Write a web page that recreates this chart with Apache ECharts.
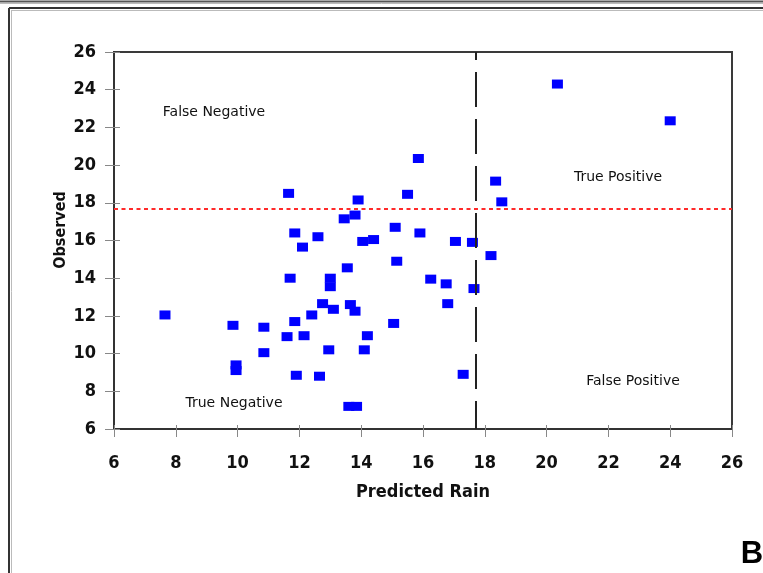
<!DOCTYPE html>
<html>
<head>
<meta charset="utf-8">
<script src="https://cdn.jsdelivr.net/npm/echarts@6/dist/echarts.min.js"></script>
<style>
html,body{margin:0;padding:0;background:#fff;}
#chart{width:763px;height:573px;}
</style>
</head>
<body>
<div id="chart"></div>
<script>
const predicted = [11.65, 11.85, 12.6, 12.1, 11.7, 7.65, 9.85, 10.85, 11.85, 12.4, 12.75, 11.6, 12.15, 10.85, 9.95, 9.95, 11.9, 12.65,
  15.85, 18.35, 15.5, 13.9, 18.55, 13.45, 13.8, 15.1, 15.9, 14.05, 14.4, 17.05, 17.6, 18.2, 13.55, 15.15, 13.0, 13.0, 16.25, 16.75, 17.65,
  13.1, 13.65, 13.8, 16.8, 15.05, 14.2, 12.95, 14.1, 17.3, 13.6, 13.85, 20.35, 24.0];
const observed = [18.5, 16.4, 16.2, 15.65, 14.0, 12.05, 11.5, 11.4, 11.7, 12.05, 12.65, 10.9, 10.95, 10.05, 9.4, 9.1, 8.85, 8.8,
  20.35, 19.15, 18.45, 18.15, 18.05, 17.15, 17.35, 16.7, 16.4, 15.95, 16.05, 15.95, 15.9, 15.2, 14.55, 14.9, 14.0, 13.55, 13.95, 13.7, 13.45,
  12.35, 12.6, 12.25, 12.65, 11.6, 10.95, 10.2, 10.2, 8.9, 7.2, 7.2, 24.3, 22.35];
const predictedThreshold = 17.7;
const observedThreshold = 17.7;
const axisMin = 6, axisMax = 26, axisStep = 2;
const quadrantLabels = ['False Negative', 'True Positive', 'False Positive', 'True Negative'];
const xTitle = 'Predicted Rain';
const yTitle = 'Observed';
const panelLetter = 'B';

const points = predicted.map((p, i) => [p, observed[i]]);
const narrow = "'Liberation Sans Narrow','DejaVu Sans Condensed','Arial Narrow',sans-serif";
const chart = echarts.init(document.getElementById('chart'), null, {renderer: 'canvas'});

const baseAxis = {
  type: 'value', min: axisMin, max: axisMax, interval: axisStep,
  splitLine: {show: false}
};

chart.setOption({
  animation: false,
  backgroundColor: '#fff',
  grid: {left: 114, right: 31, top: 52, bottom: 144, show: true, borderColor: '#3a3a3a', borderWidth: 2},
  xAxis: [
    Object.assign({}, baseAxis, {
      position: 'bottom',
      axisLine: {show: true, lineStyle: {color: '#333', width: 2}},
      axisTick: {show: true, inside: false, length: 8, lineStyle: {color: '#888', width: 1}},
      axisLabel: {margin: 25, color: '#111', fontFamily: narrow, fontWeight: 'bold', fontSize: 18},
      name: xTitle, nameLocation: 'middle', nameGap: 54,
      nameTextStyle: {color: '#111', fontFamily: narrow, fontWeight: 'bold', fontSize: 18}
    }),
    Object.assign({}, baseAxis, {
      position: 'bottom', offset: 0,
      axisLine: {show: false},
      axisTick: {show: true, inside: true, length: 4, lineStyle: {color: '#888', width: 1}},
      axisLabel: {show: false}
    })
  ],
  yAxis: [
    Object.assign({}, baseAxis, {
      position: 'left',
      axisLine: {show: true, lineStyle: {color: '#333', width: 2}},
      axisTick: {show: true, inside: false, length: 9, lineStyle: {color: '#888', width: 1}},
      axisLabel: {margin: 18, color: '#111', fontFamily: narrow, fontWeight: 'bold', fontSize: 18}
    }),
    Object.assign({}, baseAxis, {
      position: 'left', offset: 0,
      axisLine: {show: false},
      axisTick: {show: true, inside: true, length: 6, lineStyle: {color: '#888', width: 1}},
      axisLabel: {show: false}
    })
  ],
  series: [{
    type: 'scatter',
    xAxisIndex: 0, yAxisIndex: 0,
    data: points,
    symbol: 'rect',
    symbolSize: [11, 9],
    itemStyle: {color: '#0000ff', opacity: 1},
    markLine: {
      silent: true,
      symbol: ['none', 'none'],
      label: {show: false},
      data: [
        {xAxis: predictedThreshold, lineStyle: {color: '#222', width: 2, type: [35, 12], dashOffset: 7}},
        {yAxis: observedThreshold, lineStyle: {color: '#ff2a2a', width: 2, type: [4, 3.5]}}
      ]
    }
  }],
  graphic: [
    {type: 'line', shape: {x1: 0, y1: 1.5, x2: 763, y2: 1.5}, style: {stroke: '#555', lineWidth: 2}},
    {type: 'line', shape: {x1: 0, y1: 3.5, x2: 763, y2: 3.5}, style: {stroke: '#bbb', lineWidth: 1}},
    {type: 'line', shape: {x1: 9, y1: 8, x2: 763, y2: 8}, style: {stroke: '#333', lineWidth: 2}},
    {type: 'line', shape: {x1: 9, y1: 8, x2: 9, y2: 573}, style: {stroke: '#333', lineWidth: 2}},
    {type: 'line', shape: {x1: 11.5, y1: 10, x2: 11.5, y2: 573}, style: {stroke: '#bbb', lineWidth: 1}},
    {type: 'line', shape: {x1: 11, y1: 10.5, x2: 763, y2: 10.5}, style: {stroke: '#bbb', lineWidth: 1}},
    {type: 'text', x: 214, y: 112, style: {text: quadrantLabels[0], font: "14px 'DejaVu Sans'", fill: '#111', textAlign: 'center', textVerticalAlign: 'middle'}},
    {type: 'text', x: 618, y: 177, style: {text: quadrantLabels[1], font: "14px 'DejaVu Sans'", fill: '#111', textAlign: 'center', textVerticalAlign: 'middle'}},
    {type: 'text', x: 633, y: 381, style: {text: quadrantLabels[2], font: "14px 'DejaVu Sans'", fill: '#111', textAlign: 'center', textVerticalAlign: 'middle'}},
    {type: 'text', x: 234, y: 403, style: {text: quadrantLabels[3], font: "14px 'DejaVu Sans'", fill: '#111', textAlign: 'center', textVerticalAlign: 'middle'}},
    {type: 'text', x: 61, y: 230, rotation: Math.PI / 2, style: {text: yTitle, font: "bold 16px " + narrow, fill: '#111', textAlign: 'center', textVerticalAlign: 'middle'}},
    {type: 'text', x: 752, y: 554, style: {text: panelLetter, font: "bold 31px 'Liberation Sans', Arial, sans-serif", fill: '#000', textAlign: 'center', textVerticalAlign: 'middle'}}
  ]
});
</script>
</body>
</html>
